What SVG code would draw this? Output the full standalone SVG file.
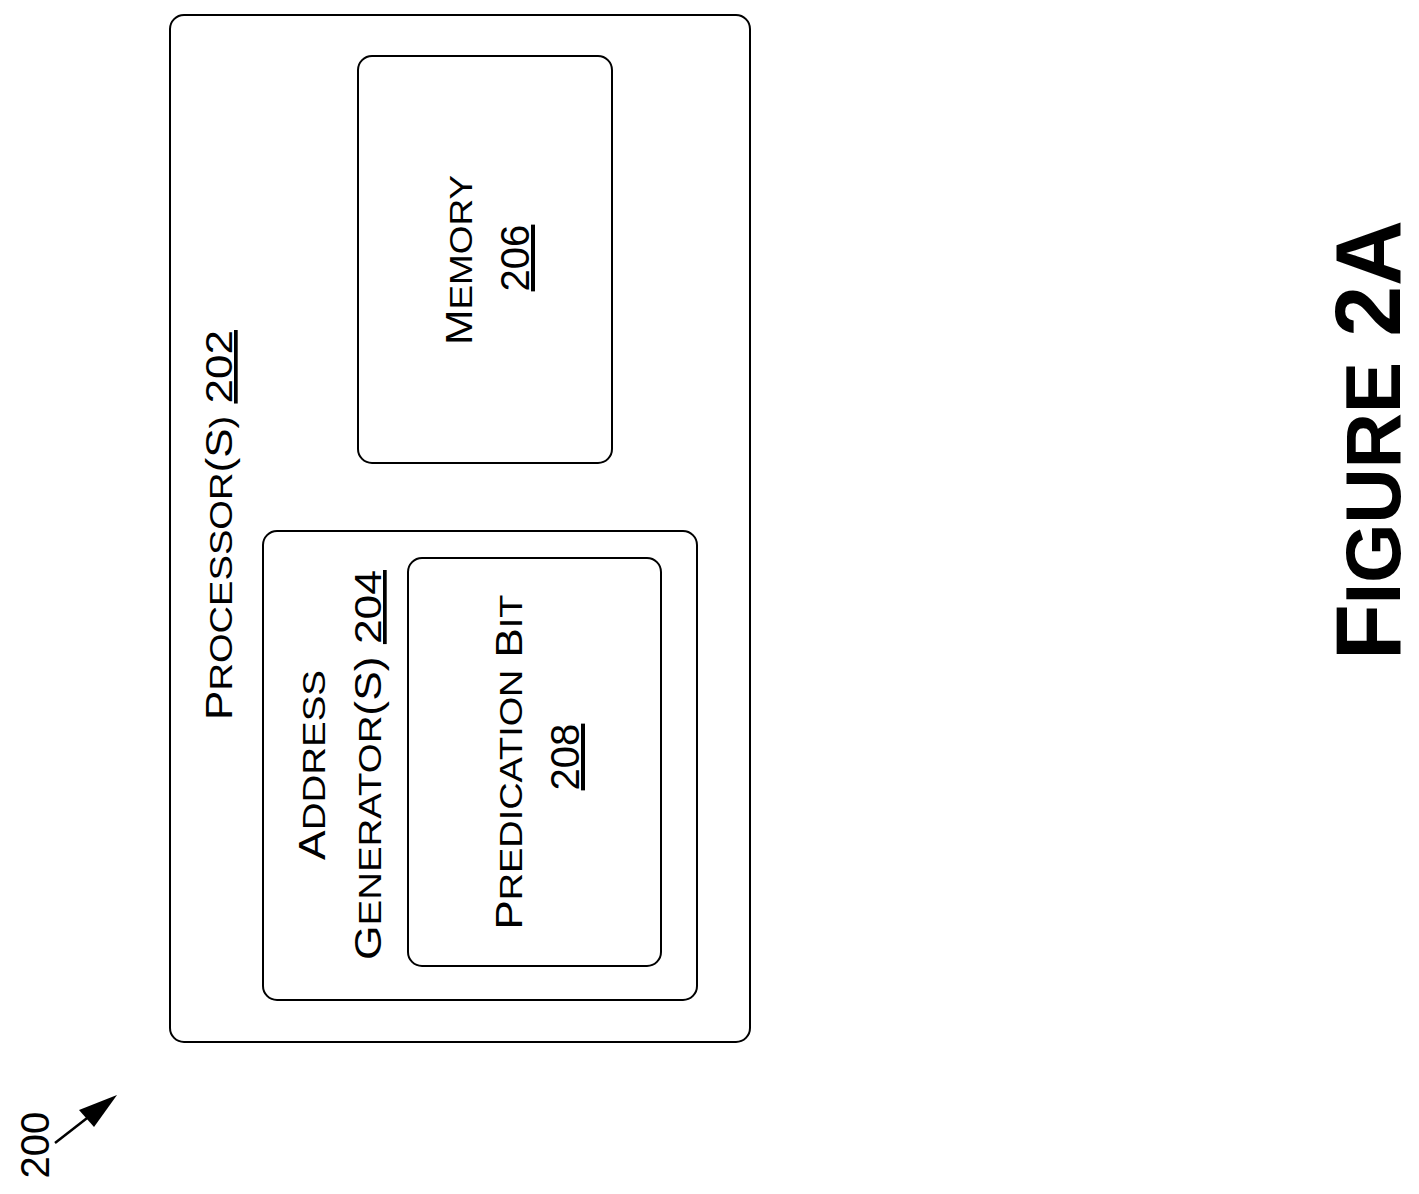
<svg xmlns="http://www.w3.org/2000/svg" width="1419" height="1194" viewBox="0 0 1419 1194">
<style>
rect{fill:#fff;stroke:#000;stroke-width:2}
text{font-family:"Liberation Sans",Arial,sans-serif;font-size:37px;text-anchor:middle;fill:#000}
.s{font-size:32px}
.u{text-decoration:underline}
</style>
<rect x="0" y="0" width="1419" height="1194" style="stroke:none"/>
<g id="processor">
<rect x="170" y="15" width="580" height="1027" rx="14"/>
<text transform="translate(232,525) rotate(-90)" textLength="390" lengthAdjust="spacingAndGlyphs">P<tspan class="s">ROCESSOR</tspan>(S<tspan class="s">)</tspan> <tspan class="u">202</tspan></text>
</g>
<g id="address">
<rect x="263" y="531" width="434" height="469" rx="14"/>
<text transform="translate(325,765) rotate(-90)" textLength="190" lengthAdjust="spacingAndGlyphs">A<tspan class="s">DDRESS</tspan></text>
<text transform="translate(381,765) rotate(-90)" textLength="390" lengthAdjust="spacingAndGlyphs">G<tspan class="s">ENERATOR</tspan>(S) <tspan class="u">204</tspan></text>
</g>
<g id="predication">
<rect x="408" y="558" width="253" height="408" rx="14"/>
<text transform="translate(522,762) rotate(-90)" textLength="335" lengthAdjust="spacingAndGlyphs">P<tspan class="s">REDICATION</tspan> B<tspan class="s">IT</tspan></text>
<text class="u" transform="translate(579,757) rotate(-90)" style="font-size:40px">208</text>
</g>
<g id="memory">
<rect x="358" y="56" width="254" height="407" rx="14"/>
<text transform="translate(472,260) rotate(-90)" textLength="170" lengthAdjust="spacingAndGlyphs">M<tspan class="s">EMORY</tspan></text>
<text class="u" transform="translate(529,258) rotate(-90)" style="font-size:40px">206</text>
</g>
<g id="label200">
<text transform="translate(49,1145) rotate(-90)" style="font-size:40px">200</text>
</g>
<g id="connectors">
<line x1="55" y1="1143" x2="100" y2="1108" stroke="#000" stroke-width="2.5"/>
<polygon points="117,1095 79,1110 94,1127" fill="#000"/>
</g>
<text transform="translate(1400,440) rotate(-90)" style="font-size:92px;font-weight:bold" textLength="440" lengthAdjust="spacingAndGlyphs">F<tspan style="font-size:77px">IGURE</tspan> 2A</text>
</svg>
